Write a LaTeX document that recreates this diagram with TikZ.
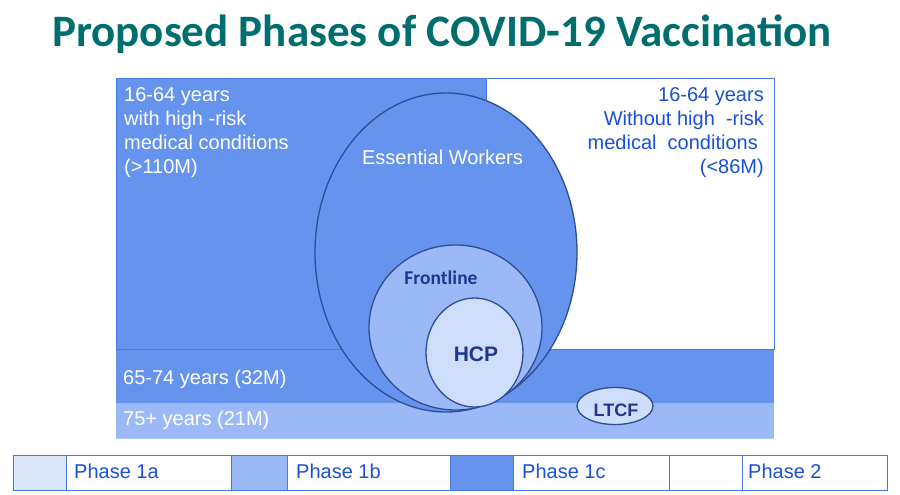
\documentclass[tikz,border=0pt]{standalone}
\usepackage{fontspec}
\setmainfont{Liberation Sans}
\newfontfamily\carlito{Carlito}
\usetikzlibrary{shapes.geometric}
\definecolor{cdark}{RGB}{101,147,238}
\definecolor{cmid}{RGB}{155,185,246}
\definecolor{clight}{RGB}{206,221,250}
\definecolor{cleg}{RGB}{220,230,251}
\definecolor{edge}{RGB}{46,78,148}
\definecolor{frame}{RGB}{70,120,230}
\definecolor{tblue}{RGB}{25,80,215}
\definecolor{tdark}{RGB}{30,55,145}
\definecolor{teal}{RGB}{0,110,110}
\tikzset{
  region/.style={draw=frame, line width=0.8pt},
  oval/.style={ellipse, draw=edge, line width=1.3pt, inner sep=0pt, outer sep=0pt},
  wtxt/.style={font=\fontsize{20}{24}\selectfont, text=white, inner sep=0pt},
  btxt/.style={font=\fontsize{20}{24}\selectfont, text=tblue, inner sep=0pt, anchor=base east},
  dtxt/.style={text=tdark, inner sep=0pt, anchor=base},
  legcell/.style={draw=frame, line width=0.9pt},
  legtxt/.style={font=\fontsize{20}{24}\selectfont, text=tblue, inner sep=0pt, anchor=base west},
}
\begin{document}
\begin{tikzpicture}[x=1pt,y=-1pt]
\useasboundingbox (0,0) rectangle (900,495);
\fill[white] (0,0) rectangle (900,495);
% title
\node[font=\carlito\bfseries\fontsize{45}{50}\selectfont, text=teal, inner sep=0pt, anchor=base] (title) at (442,47) {Proposed Phases of COVID-19 Vaccination};
% regions
\fill[cdark] (116,349) rectangle (774,403);
\fill[cmid] (116,403) rectangle (774,438);
\draw[frame!40, line width=0.8pt] (116,438) -- (774,438);
\draw[region, fill=cdark] (116,78) rectangle (486,349);
\draw[region, fill=white] (486,78) rectangle (774,349);
% left texts
\node[wtxt, anchor=base west] (l1) at (124,101.5) {16-64 years};
\node[wtxt, anchor=base west] (l2) at (124,125.5) {with high -risk};
\node[wtxt, anchor=base west] (l3) at (124,149.5) {medical conditions};
\node[wtxt, anchor=base west] (l4) at (124,173.5) {(>110M)};
% right texts
\node[btxt] (r1) at (764,101.5) {16-64 years};
\node[btxt] (r2) at (764,125.5) {Without high\ \ -risk};
\node[btxt] (r3) at (758,149.5) {medical\ \ conditions};
\node[btxt] (r4) at (764,173.5) {(<86M)};
% bands text
\node[wtxt, anchor=base west] (b1) at (123,384) {65-74 years (32M)};
\node[wtxt, anchor=base west] (b2) at (123,425) {75+ years (21M)};
% ellipses
\node[oval, fill=cdark, minimum width=262pt, minimum height=319pt] (ess) at (446,252.5) {};
\node[oval, fill=cmid, minimum width=173pt, minimum height=165pt] (front) at (455.5,327.5) {};
\node[oval, fill=clight, minimum width=97pt, minimum height=109pt] (hcp) at (474.5,352.5) {};
\node[oval, fill=clight, minimum width=76pt, minimum height=37pt] (ltcf) at (615,406) {};
\node[wtxt, anchor=base] (esst) at (442.5,164) {Essential Workers};
\node[dtxt, font=\carlito\bfseries\fontsize{19.5}{22}\selectfont] (frontt) at (441,284) {Frontline};
\node[dtxt, font=\bfseries\fontsize{21}{24}\selectfont] (hcpt) at (476,361) {HCP};
\node[dtxt, font=\bfseries\fontsize{18}{20}\selectfont] (ltcft) at (616,416.5) {LTCF};
% legend
\draw[legcell, fill=cleg] (13,455) rectangle (66,490);
\draw[legcell] (66,455) rectangle (231,490);
\draw[legcell, fill=cmid] (231,455) rectangle (287,490);
\draw[legcell] (287,455) rectangle (450,490);
\draw[legcell, fill=cdark] (450,455) rectangle (513,490);
\draw[legcell] (513,455) rectangle (669,490);
\draw[legcell] (669,455) rectangle (742,490);
\draw[legcell] (742,455) rectangle (887,490);
\node[legtxt] (p1a) at (74,478) {Phase 1a};
\node[legtxt] (p1b) at (296,478) {Phase 1b};
\node[legtxt] (p1c) at (522,478) {Phase 1c};
\node[legtxt] (p2) at (748,478) {Phase 2};
\end{tikzpicture}
\end{document}
